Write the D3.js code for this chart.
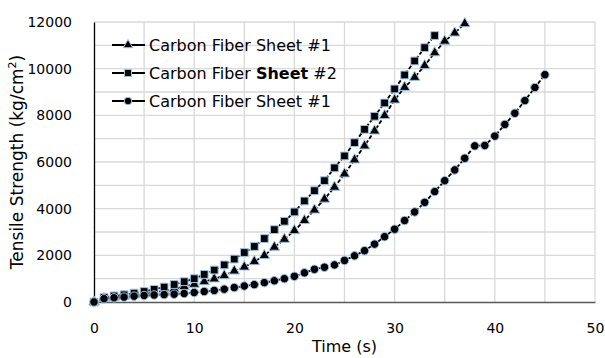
<!DOCTYPE html>
<html><head><meta charset="utf-8">
<script src="https://cdn.jsdelivr.net/npm/d3@7"></script>
<style>body{margin:0;background:#fff}svg{display:block}text{font-family:"DejaVu Sans",sans-serif;fill:#000}</style>
</head><body>
<script>
const timeTri = d3.range(0, 38);
const tri = [0,150,200,250,300,350,410,480,560,660,760,870,990,1130,1330,1500,1730,1990,2350,2690,3060,3490,3940,4410,4920,5490,6090,6690,7330,7990,8660,9200,9630,10130,10680,11180,11530,11930];
const timeSq = d3.range(0, 35);
const sq = [0,200,260,310,380,450,540,640,750,870,1000,1180,1370,1590,1840,2120,2380,2720,3100,3460,3860,4330,4770,5200,5750,6260,6830,7400,7960,8530,9130,9730,10330,10900,11420];
const timeCir = d3.range(0, 46);
const cir = [0,140,180,210,250,280,300,315,335,365,405,450,495,550,620,685,745,830,910,1000,1100,1250,1400,1490,1590,1780,1980,2200,2480,2800,3120,3490,3860,4270,4730,5200,5660,6160,6690,6710,7110,7610,8090,8630,9190,9740];
const seriesNames = ["Carbon Fiber Sheet #1","Carbon Fiber Sheet #2","Carbon Fiber Sheet #1"];
const xTicks = [0,10,20,30,40,50];
const yTicks = [0,2000,4000,6000,8000,10000,12000];

const W=605,H=358, L=94, R=595, T=22, B=302;
const svg = d3.select("body").append("svg").attr("width",W).attr("height",H);
const x = d3.scaleLinear().domain([0,50]).range([L,R]);
const y = d3.scaleLinear().domain([0,12000]).range([B,T]);

// gridlines
const g = svg.append("g");
g.selectAll("line.v").data(d3.range(5,51,5)).join("line")
 .attr("x1",d=>x(d)).attr("x2",d=>x(d)).attr("y1",T).attr("y2",B)
 .attr("stroke","#d9d9d9").attr("stroke-width",1.3);
g.selectAll("line.h").data(d3.range(1000,12001,1000)).join("line")
 .attr("x1",L).attr("x2",R).attr("y1",d=>y(d)).attr("y2",d=>y(d))
 .attr("stroke","#d9d9d9").attr("stroke-width",1.3);

// axes
const fmt = d3.format("d");
const xa = svg.append("g").attr("transform",`translate(0,${B})`)
 .call(d3.axisBottom(x).tickValues(xTicks).tickFormat(fmt).tickSize(0).tickPadding(21));
xa.select(".domain").attr("stroke","#595959").attr("stroke-width",1.5);
xa.selectAll("text").attr("font-size",14).attr("font-family","DejaVu Sans");
const ya = svg.append("g").attr("transform",`translate(${L},0)`)
 .call(d3.axisLeft(y).tickValues(yTicks).tickFormat(fmt).tickSize(0).tickPadding(22));
ya.select(".domain").attr("stroke","#000").attr("stroke-width",1.3);
ya.selectAll("text").attr("font-size",14).attr("font-family","DejaVu Sans");

// titles
svg.append("text").attr("x",(L+R)/2).attr("y",352).attr("text-anchor","middle")
 .attr("font-size",16).text("Time (s)");
const yt = svg.append("text").attr("transform",`translate(23,${(T+B)/2}) rotate(-90)`)
 .attr("text-anchor","middle").attr("font-size",17);
yt.append("tspan").text("Tensile Strength (kg/cm");
yt.append("tspan").attr("font-size",11).attr("dy",-7).text("2");
yt.append("tspan").attr("dy",7).text(")");

const sym = [d3.symbolTriangle, d3.symbolSquare, d3.symbolCircle];
const sizes = [48, 60, 56];
const sets = [[timeTri,tri],[timeSq,sq],[timeCir,cir]];
const line = d3.line().x(d=>x(d[0])).y(d=>y(d[1]));
sets.forEach(([t,v],i)=>{
  const pts = t.map((d,j)=>[d,v[j]]);
  svg.append("path").datum(pts).attr("d",line).attr("fill","none")
    .attr("stroke","#000").attr("stroke-width",1.8).attr("stroke-dasharray","4,2");
  svg.append("g").selectAll("path").data(pts).join("path")
    .attr("d",d3.symbol().type(sym[i]).size(sizes[i]))
    .attr("transform",d=>`translate(${x(d[0])},${y(d[1])})`)
    .attr("fill","#000").attr("stroke","#9dc3e6").attr("stroke-width",1);
});

// legend
const lg = svg.append("g");
const ly = [45,73,101];
seriesNames.forEach((n,i)=>{
  lg.append("line").attr("x1",112).attr("x2",145).attr("y1",ly[i]).attr("y2",ly[i])
   .attr("stroke","#000").attr("stroke-width",1.8);
  lg.append("path").attr("d",d3.symbol().type(sym[i]).size(sizes[i]*0.8))
   .attr("transform",`translate(128,${ly[i]})`).attr("fill","#000").attr("stroke","#9dc3e6").attr("stroke-width",1);
  const t = lg.append("text").attr("x",149).attr("y",ly[i]).attr("dy","0.35em").attr("font-size",16);
  if(i===1){
    t.append("tspan").text("Carbon Fiber ");
    t.append("tspan").attr("font-weight","600").text("Sheet");
    t.append("tspan").text(" #2");
  } else t.text(n);
});
</script>
</body></html>
